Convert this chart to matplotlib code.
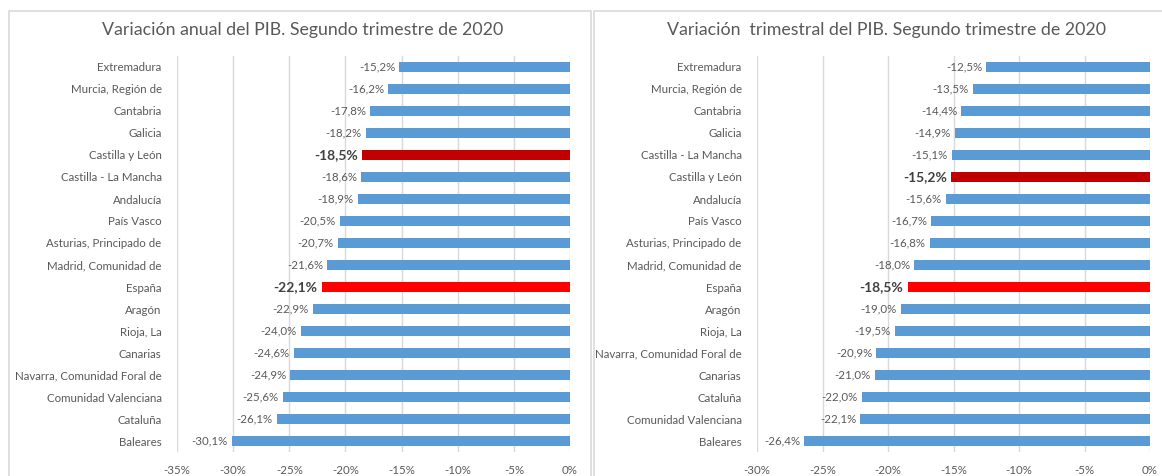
import matplotlib
matplotlib.use("Agg")
from matplotlib import pyplot as plt
from matplotlib.patches import Rectangle
from matplotlib.ticker import FuncFormatter

plt.rcParams['font.family'] = ['Lato', 'DejaVu Sans']

# datos: variación anual (arriba -> abajo)
ANUAL_REGIONES = ["Extremadura", "Murcia, Región de", "Cantabria", "Galicia", "Castilla y León",
                  "Castilla - La Mancha", "Andalucía", "País Vasco", "Asturias, Principado de",
                  "Madrid, Comunidad de", "España", "Aragón", "Rioja, La", "Canarias",
                  "Navarra, Comunidad Foral de", "Comunidad Valenciana", "Cataluña", "Baleares"]
ANUAL_VALORES = [-15.2, -16.2, -17.8, -18.2, -18.5, -18.6, -18.9, -20.5, -20.7,
                 -21.6, -22.1, -22.9, -24.0, -24.6, -24.9, -25.6, -26.1, -30.1]

# datos: variación trimestral (arriba -> abajo)
TRIM_REGIONES = ["Extremadura", "Murcia, Región de", "Cantabria", "Galicia", "Castilla - La Mancha",
                 "Castilla y León", "Andalucía", "País Vasco", "Asturias, Principado de",
                 "Madrid, Comunidad de", "España", "Aragón", "Rioja, La",
                 "Navarra, Comunidad Foral de", "Canarias", "Cataluña", "Comunidad Valenciana",
                 "Baleares"]
TRIM_VALORES = [-12.5, -13.5, -14.4, -14.9, -15.1, -15.2, -15.6, -16.7, -16.8,
                -18.0, -18.5, -19.0, -19.5, -20.9, -21.0, -22.0, -22.1, -26.4]

TITULO_ANUAL = "Variación anual del PIB. Segundo trimestre de 2020"
TITULO_TRIM = "Variación  trimestral del PIB. Segundo trimestre de 2020"

AZUL = "#5B9BD5"
COLORES_DEST = {"Castilla y León": "#C00000", "España": "#FF0000"}
GRIS = "#595959"


def fmt(v):
    return f"{v:.1f}%".replace(".", ",")


def dibuja(ax, regiones, valores, xmin, titulo):
    ys = list(range(len(regiones)))
    colores = [COLORES_DEST.get(r, AZUL) for r in regiones]
    ax.barh(ys, valores, height=0.42, color=colores, zorder=3)
    ax.set_ylim(len(regiones) - 0.5, -0.5)
    ax.set_yticks(ys)
    ax.set_yticklabels(regiones)
    ax.set_xlim(xmin, 0)
    ax.set_xticks(range(xmin, 1, 5))
    ax.xaxis.set_major_formatter(FuncFormatter(lambda v, p: f"{v:.0f}%"))
    ax.tick_params(axis="both", length=0, labelsize=8.3, labelcolor=GRIS)
    ax.tick_params(axis="y", pad=11)
    ax.tick_params(axis="x", pad=9)
    ax.grid(axis="x", color="#D9D9D9", linewidth=1, zorder=0)
    for s in ax.spines.values():
        s.set_visible(False)
    for y, r, v in zip(ys, regiones, valores):
        if r in COLORES_DEST:
            ax.annotate(fmt(v), (v, y), xytext=(-3, 0), textcoords="offset points",
                        ha="right", va="center", fontsize=10, fontweight="bold", color="#404040")
        else:
            ax.annotate(fmt(v), (v, y), xytext=(-3, 0), textcoords="offset points",
                        ha="right", va="center", fontsize=8.3, color=GRIS)
    ax.set_title(titulo, fontsize=12.8, color=GRIS, pad=15)


fig = plt.figure(figsize=(11.62, 4.76), dpi=100)
W, H = 1162, 476

# marcos de los dos gráficos
fig.add_artist(Rectangle((9 / W, -0.05), 582 / W, 1 - 11 / H + 0.05, transform=fig.transFigure,
                         fill=False, edgecolor="#D9D9D9", linewidth=1.2))
fig.add_artist(Rectangle((594 / W, -0.05), 580 / W, 1 - 11 / H + 0.05, transform=fig.transFigure,
                         fill=False, edgecolor="#D9D9D9", linewidth=1.2))

ax1 = fig.add_axes([177 / W, (H - 452) / H, 393 / W, 396 / H])
ax2 = fig.add_axes([757 / W, (H - 452) / H, 393 / W, 396 / H])

dibuja(ax1, ANUAL_REGIONES, ANUAL_VALORES, -35, TITULO_ANUAL)
dibuja(ax2, TRIM_REGIONES, TRIM_VALORES, -30, TITULO_TRIM)

ax1.title.set_position((0.32, 1))
ax2.title.set_position((0.33, 1))

fig.savefig("out.png", dpi=100)
